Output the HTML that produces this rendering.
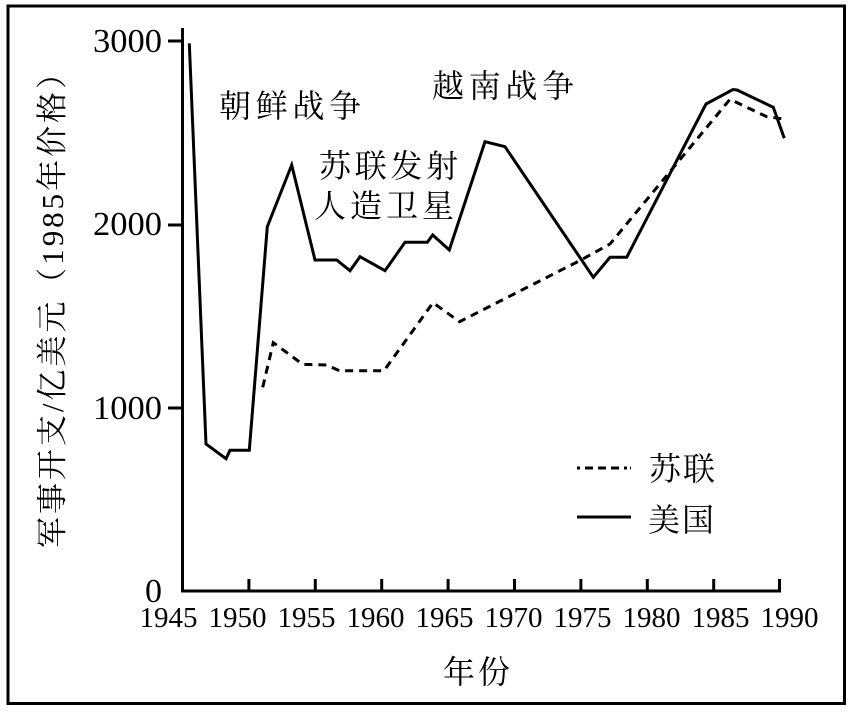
<!DOCTYPE html>
<html>
<head>
<meta charset="utf-8">
<style>
  html, body { margin: 0; padding: 0; background: #fff; }
  svg { display: block; }
  text { font-family: "Liberation Serif", "Noto Serif CJK SC", "Noto Serif CJK JP", "Noto Serif CJK", "Noto Serif SC", serif; fill: #000; }
</style>
</head>
<body>
<svg width="857" height="715" viewBox="0 0 857 715" xmlns="http://www.w3.org/2000/svg">
  <rect x="0" y="0" width="857" height="715" fill="#fff"/>
  <!-- frame -->
  <rect x="8" y="6" width="836.5" height="697.5" fill="none" stroke="#000" stroke-width="3"/>

  <!-- axes -->
  <line x1="182.5" y1="28" x2="182.5" y2="592.5" stroke="#000" stroke-width="3"/>
  <line x1="181" y1="591" x2="781" y2="591" stroke="#000" stroke-width="3"/>

  <!-- y ticks -->
  <g stroke="#000" stroke-width="3">
    <line x1="168" y1="41" x2="182" y2="41"/>
    <line x1="168" y1="225" x2="182" y2="225"/>
    <line x1="168" y1="408" x2="182" y2="408"/>
  </g>
  <!-- x ticks -->
  <g stroke="#000" stroke-width="3">
    <line x1="248.9" y1="579" x2="248.9" y2="591"/>
    <line x1="315.3" y1="579" x2="315.3" y2="591"/>
    <line x1="381.7" y1="579" x2="381.7" y2="591"/>
    <line x1="448.1" y1="579" x2="448.1" y2="591"/>
    <line x1="514.5" y1="579" x2="514.5" y2="591"/>
    <line x1="580.9" y1="579" x2="580.9" y2="591"/>
    <line x1="647.3" y1="579" x2="647.3" y2="591"/>
    <line x1="713.7" y1="579" x2="713.7" y2="591"/>
    <line x1="779.5" y1="579" x2="779.5" y2="592.5"/>
  </g>

  <!-- y labels -->
  <g font-size="34" text-anchor="end">
    <text x="162" y="52" textLength="69" lengthAdjust="spacingAndGlyphs">3000</text>
    <text x="162" y="235" textLength="69" lengthAdjust="spacingAndGlyphs">2000</text>
    <text x="162" y="419" textLength="69" lengthAdjust="spacingAndGlyphs">1000</text>
    <text x="162" y="602">0</text>
  </g>

  <!-- x labels -->
  <g font-size="29" text-anchor="middle">
    <text x="168.5" y="627">1945</text>
    <text x="237.5" y="627">1950</text>
    <text x="306.5" y="627">1955</text>
    <text x="375.5" y="627">1960</text>
    <text x="444.5" y="627">1965</text>
    <text x="513.5" y="627">1970</text>
    <text x="582.5" y="627">1975</text>
    <text x="651.5" y="627">1980</text>
    <text x="720.5" y="627">1985</text>
    <text x="789.5" y="627">1990</text>
  </g>

  <!-- axis titles -->
  <text transform="translate(63,303) rotate(-90)" font-size="31" text-anchor="middle" textLength="490" lengthAdjust="spacing">军事开支/亿美元（1985年价格）</text>
  <text x="443" y="683" font-size="32" letter-spacing="3">年份</text>

  <!-- US line -->
  <polyline fill="none" stroke="#000" stroke-width="3" stroke-linejoin="miter" points="
    189.3,43.3 206,444 226,458.7 230,450.3 249.3,450.3 267.3,226.7 291.7,165 315,260 336.7,260
    350,270.7 360,256.7 385,270.7 405,242.3 427.3,242.3 432.7,235 449.3,250 485,141.7 505,146.7
    593.3,277.3 610,257.3 626.7,257.3 706,104 733,89.5 737,90 773.3,107.3 784.3,138.3"/>

  <!-- USSR line -->
  <polyline fill="none" stroke="#000" stroke-width="3" stroke-dasharray="8 6" points="
    262.7,387.3 273.3,342.7 302.7,364.3 326.7,365 339.3,370.7 384,370.7 433,302.7 459.5,321.7
    580,260.5 610,244 730,99.3 766.7,116.7 786.7,119.3"/>

  <!-- annotations -->
  <g font-size="32">
    <text x="219" y="117" letter-spacing="4.7">朝鲜战争</text>
    <text x="319" y="177" letter-spacing="3.7">苏联发射</text>
    <text x="314" y="217" letter-spacing="4">人造卫星</text>
    <text x="432" y="97" letter-spacing="4.7">越南战争</text>
  </g>

  <!-- legend -->
  <line x1="577" y1="468" x2="631" y2="468" stroke="#000" stroke-width="3" stroke-dasharray="3 5 8 5 8 5 8 5 3"/>
  <line x1="577" y1="517" x2="631" y2="517" stroke="#000" stroke-width="3"/>
  <g font-size="32">
    <text x="649" y="480" letter-spacing="2">苏联</text>
    <text x="648" y="531" letter-spacing="2">美国</text>
  </g>
</svg>
</body>
</html>
